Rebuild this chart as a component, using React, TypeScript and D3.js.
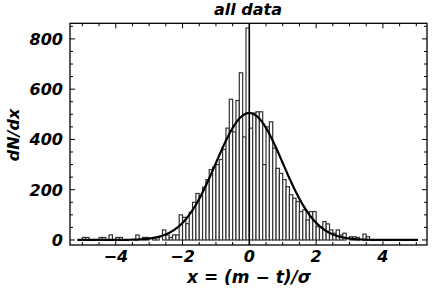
import React from "react";
import * as d3 from "d3";

// Histogram bins: left edges start at -5.2, width 0.1; values are dN/dx
const binStart = -5.2;
const binWidth = 0.1;
const binValues = [
  0, 0, 10, 10, 0, 0, 0, 10, 10, 0,
  20, 0, 10, 10, 0, 0, 0, 0, 20, 0,
  10, 10, 0, 10, 10, 0, 40, 20, 10, 20,
  20, 100, 90, 65, 110, 150, 185, 175, 210, 240,
  280, 290, 300, 320, 360, 445, 560, 430, 555, 665,
  410, 843, 445, 505, 510, 510, 300, 450, 470, 365,
  285, 265, 240, 212, 180, 166, 153, 113, 120, 80,
  113, 113, 53, 53, 73, 64, 40, 27, 40, 20,
  27, 0, 13, 13, 10, 0, 23, 13, 0, 0,
  0, 0, 0, 0, 0, 0, 0, 0, 0, 0,
  0, 0,
];

// Gaussian fit parameters
const fitAmplitude = 505;
const fitMean = 0;
const fitSigma = 1;
const fitRange = [-5.15, 5.05];

const xMajorTicks = [-4, -2, 0, 2, 4];
const xMinorTicks = d3.range(-5, 5.01, 0.5);
const yMajorTicks = [0, 200, 400, 600, 800];
const yMinorTicks = d3.range(0, 851, 50);

const title = "all data";
const xLabel = "x = (m \u2212 t)/\u03c3";
const yLabel = "dN/dx";

const W = 436;
const H = 293;
const L = 70, R = 427, T = 23.3, B = 245;

export default function App() {
  const x = d3.scaleLinear().domain([-5.37, 5.32]).range([L, R]);
  const y = d3.scaleLinear().domain([-20, 862]).range([B, T]);

  const curvePts = d3.range(fitRange[0], fitRange[1] + 1e-9, 0.02).map((v) => [
    v,
    fitAmplitude * Math.exp(-((v - fitMean) ** 2) / (2 * fitSigma * fitSigma)),
  ]);
  const line = d3
    .line<number[]>()
    .x((d) => x(d[0]))
    .y((d) => y(d[1]));

  const font = {
    fontFamily: "'DejaVu Sans', sans-serif",
    fontWeight: "bold" as const,
    fontStyle: "italic" as const,
  };
  const fmt = (v: number) => (v < 0 ? "\u2212" + Math.abs(v) : String(v));

  return (
    <svg
      width={W}
      height={H}
      style={{ position: "absolute", left: 0, top: 0, background: "white" }}
    >
      <rect x={0} y={0} width={W} height={H} fill="white" />
      {/* bars */}
      <g>
        {binValues.map((v, i) =>
          v > 0 ? (
            <rect
              key={i}
              x={x(binStart + i * binWidth)}
              y={y(v)}
              width={x(binStart + (i + 1) * binWidth) - x(binStart + i * binWidth)}
              height={y(0) - y(v)}
              fill="white"
              stroke="#333"
              strokeWidth={1.2}
            />
          ) : null
        )}
      </g>
      {/* axis at x=0 */}
      <line x1={x(0)} x2={x(0)} y1={T} y2={B} stroke="black" strokeWidth={1.5} />
      {/* fit curve */}
      <path d={line(curvePts) || ""} fill="none" stroke="black" strokeWidth={2.2} />
      {/* frame */}
      <rect x={L} y={T} width={R - L} height={B - T} fill="none" stroke="black" strokeWidth={1.3} />
      {/* ticks */}
      {xMinorTicks.map((t, i) => {
        const major = xMajorTicks.includes(t);
        const len = major ? 5 : 3;
        return (
          <g key={"xt" + i} stroke="black" strokeWidth={1}>
            <line x1={x(t)} x2={x(t)} y1={B} y2={B - len} />
            <line x1={x(t)} x2={x(t)} y1={T} y2={T + len} />
          </g>
        );
      })}
      {yMinorTicks.map((t, i) => {
        const major = yMajorTicks.includes(t);
        const len = major ? 5 : 3;
        return (
          <g key={"yt" + i} stroke="black" strokeWidth={1}>
            <line x1={L} x2={L + len} y1={y(t)} y2={y(t)} />
            <line x1={R} x2={R - len} y1={y(t)} y2={y(t)} />
          </g>
        );
      })}
      {/* tick labels */}
      {xMajorTicks.map((t) => (
        <text key={"xl" + t} x={x(t)} y={262} textAnchor="middle" fontSize={16} {...font}>
          {fmt(t)}
        </text>
      ))}
      {yMajorTicks.map((t) => (
        <text key={"yl" + t} x={63} y={y(t) + 6} textAnchor="end" fontSize={16} {...font}>
          {t}
        </text>
      ))}
      {/* title and labels */}
      <text x={248} y={15} textAnchor="middle" fontSize={16} {...font}>
        {title}
      </text>
      <text x={249} y={283} textAnchor="middle" fontSize={17} {...font}>
        {xLabel}
      </text>
      <text
        transform={`translate(19,135) rotate(-90)`}
        textAnchor="middle"
        fontSize={16}
        {...font}
      >
        {yLabel}
      </text>
    </svg>
  );
}
